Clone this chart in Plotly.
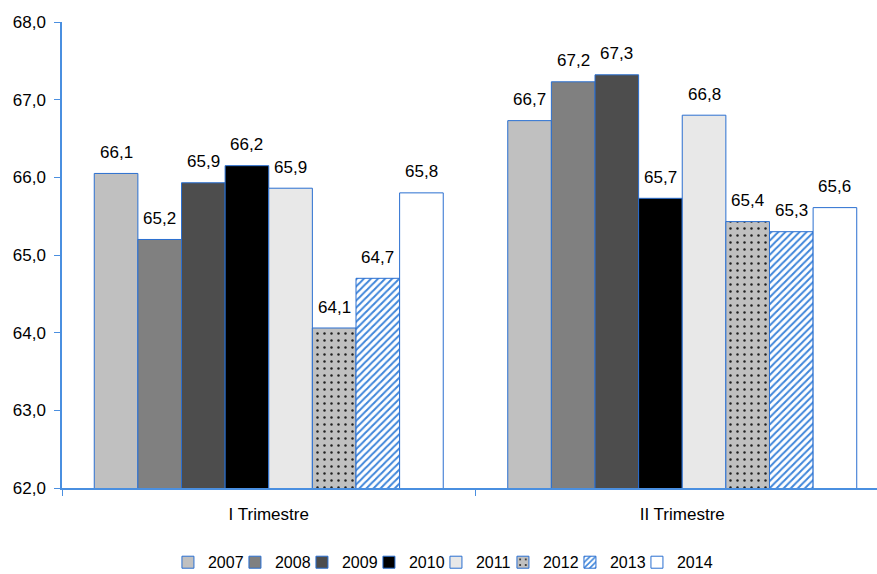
import plotly.graph_objects as go

categories = ["I Trimestre", "II Trimestre"]
years = ["2007", "2008", "2009", "2010", "2011", "2012", "2013", "2014"]
values = {
    "2007": [66.05, 66.73],
    "2008": [65.20, 67.23],
    "2009": [65.93, 67.32],
    "2010": [66.15, 65.73],
    "2011": [65.86, 66.80],
    "2012": [64.06, 65.43],
    "2013": [64.70, 65.30],
    "2014": [65.80, 65.61],
}
labels = {
    "2007": ["66,1", "66,7"],
    "2008": ["65,2", "67,2"],
    "2009": ["65,9", "67,3"],
    "2010": ["66,2", "65,7"],
    "2011": ["65,9", "66,8"],
    "2012": ["64,1", "65,4"],
    "2013": ["64,7", "65,3"],
    "2014": ["65,8", "65,6"],
}
y_ticks = [62, 63, 64, 65, 66, 67, 68]

fills = {
    "2007": dict(color="#C0C0C0"),
    "2008": dict(color="#808080"),
    "2009": dict(color="#4D4D4D"),
    "2010": dict(color="#000000"),
    "2011": dict(color="#E8E8E8"),
    "2012": dict(color="#C0C0C0", pattern=dict(shape=".", fgcolor="#202020", bgcolor="#C0C0C0", size=7, solidity=0.1, fillmode="replace")),
    "2013": dict(color="#FFFFFF", pattern=dict(shape="/", fgcolor="#3F86DA", bgcolor="#FFFFFF", size=5, solidity=0.4, fillmode="replace")),
    "2014": dict(color="#FFFFFF"),
}

W, H = 877, 574
ML, MR, MT, MB = 62, 0, 22, 86
BARGAP = 0.156
XRANGE = [-0.5, 1.471]
FONT = "Liberation Sans, Arial, sans-serif"

fig = go.Figure()
for y in years:
    f = fills[y]
    marker = dict(color=f["color"], line=dict(color="#2A6FD0", width=1))
    if "pattern" in f:
        marker["pattern"] = f["pattern"]
    fig.add_trace(go.Bar(name=y, x=categories, y=values[y], marker=marker))

# invisible spacer entry so the last legend label is not clipped
fig.add_trace(go.Scatter(x=[None], y=[None], mode="markers", name=" ",
                         marker=dict(color="rgba(0,0,0,0)", size=1,
                                     line=dict(width=0, color="rgba(0,0,0,0)")),
                         hoverinfo="skip"))

# value labels above bars
px_per_cat = (W - ML - MR) / (XRANGE[1] - XRANGE[0])
bw = px_per_cat * (1 - BARGAP) / len(years)
for i, y in enumerate(years):
    for j, c in enumerate(categories):
        fig.add_annotation(x=c, y=values[y][j], text=labels[y][j], showarrow=False,
                           xshift=(i - (len(years) - 1) / 2) * bw, yshift=21,
                           font=dict(size=17, color="#000000", family=FONT))

axis_blue = "#4A8FE0"
fig.update_layout(
    width=W, height=H,
    margin=dict(l=ML, r=MR, t=MT, b=MB, autoexpand=False),
    paper_bgcolor="white", plot_bgcolor="white",
    barmode="group", bargap=BARGAP, bargroupgap=0,
    separators=",.",
    font=dict(family=FONT, color="#000000"),
    xaxis=dict(range=XRANGE, showline=True, linecolor=axis_blue, linewidth=1.5,
               ticks="outside", tickson="boundaries", ticklen=6, tickcolor=axis_blue,
               tickfont=dict(size=17), showgrid=False, automargin=False,
               ticklabelstandoff=10),
    yaxis=dict(range=[62, 68], tickvals=y_ticks, tickformat=".1f", showline=True,
               linecolor=axis_blue, linewidth=1.5, ticks="outside", ticklen=6,
               tickcolor=axis_blue, tickfont=dict(size=17), showgrid=False, zeroline=False,
               automargin=False, ticklabelstandoff=5),
    legend=dict(orientation="h", x=0.13, xanchor="left", y=-0.123, yanchor="top",
                font=dict(size=16), entrywidth=22, traceorder="normal",
                itemwidth=30),
    showlegend=True,
)

fig.write_html("out.html", post_script="document.body.style.margin='0';",
               config={"displayModeBar": False})
